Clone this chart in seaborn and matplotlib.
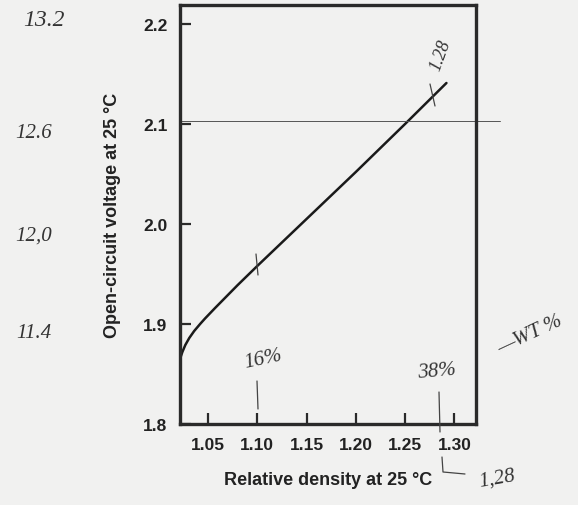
import matplotlib
matplotlib.use("Agg")
import matplotlib.pyplot as plt
from matplotlib.lines import Line2D
import seaborn as sns
import pandas as pd

# Data
density = [1.0216, 1.024, 1.027, 1.031, 1.036, 1.042, 1.047, 1.057, 1.067, 1.08,
           1.10, 1.15, 1.20, 1.25, 1.292]
voltage = [1.865, 1.872, 1.879, 1.886, 1.893, 1.900, 1.9055, 1.9158, 1.9258, 1.9388,
           1.958, 2.005, 2.052, 2.100, 2.141]
x_ticks = [1.05, 1.10, 1.15, 1.20, 1.25, 1.30]
x_tick_labels = ["1.05", "1.10", "1.15", "1.20", "1.25", "1.30"]
y_ticks = [1.8, 1.9, 2.0, 2.1, 2.2]
y_tick_labels = ["1.8", "1.9", "2.0", "2.1", "2.2"]
ref_voltage = 2.103  # hand-drawn horizontal line

# Handwritten notes: (text, x fig px, y fig px, rotation, size)
notes_text = ["13.2", "12.6", "12,0", "11.4", "16%", "38%", "\u2014WT %", "1,28", "1.28"]
notes_x = [44, 34, 34, 34, 263, 437, 530, 497, 441]
notes_y = [20, 133, 236, 334, 360, 372, 335, 479, 56]
notes_rot = [0, 0, 0, 0, 12, 5, 25, 10, 70]
notes_size = [17, 15, 15, 15, 15, 15, 15, 15, 13]

# Handwritten pen strokes (figure px)
strokes = [
    [(257, 382), (258, 410)],
    [(439, 393), (440, 433)],
    [(442, 458), (443, 473), (465, 475)],
    [(256, 255), (258, 276)],
    [(430, 85), (435, 107)],
]

W, H = 578, 506
df = pd.DataFrame({"density": density, "voltage": voltage})

sns.set_theme(style="ticks")
plt.rcParams["font.family"] = ["Liberation Sans", "DejaVu Sans"]

fig = plt.figure(figsize=(W / 100, H / 100), dpi=100, facecolor="#f1f1f0")
ax = fig.add_axes([180 / W, 1 - 425 / H, (476 - 180) / W, (425 - 6) / H])
ax.set_facecolor("#f1f1f0")

sns.lineplot(data=df, x="density", y="voltage", ax=ax, color="#1a1a1a",
             linewidth=1.8, estimator=None, sort=False)

ax.axhline(ref_voltage, xmin=0, xmax=1.08, color="#555555", linewidth=0.7,
           clip_on=False)

ax.set_xlim(1.0216, 1.322)
ax.set_ylim(1.8, 2.219)
ax.set_xticks(x_ticks)
ax.set_xticklabels(x_tick_labels)
ax.set_yticks(y_ticks)
ax.set_yticklabels(y_tick_labels)

for s in ax.spines.values():
    s.set_linewidth(2.4)
    s.set_color("#2a2a2a")
ax.tick_params(direction="in", length=8, width=1.6, color="#2a2a2a",
               labelsize=12.5, pad=9, labelcolor="#222222")
for lab in ax.get_xticklabels() + ax.get_yticklabels():
    lab.set_fontweight("bold")

ax.set_xlabel("Relative density at 25 \u00b0C", fontsize=13, fontweight="bold",
              color="#222222", labelpad=14)
ax.set_ylabel("Open-circuit voltage at 25 \u00b0C", fontsize=13, fontweight="bold",
              color="#222222", labelpad=16)

for t, x, y, r, s in zip(notes_text, notes_x, notes_y, notes_rot, notes_size):
    fig.text(x / W, 1 - y / H, t, rotation=r, fontsize=s, ha="center", va="center",
             family=["Liberation Serif", "DejaVu Serif"], style="italic",
             color="#333333")

for st in strokes:
    xs = [p[0] / W for p in st]
    ys = [1 - p[1] / H for p in st]
    fig.add_artist(Line2D(xs, ys, transform=fig.transFigure, color="#444444",
                          linewidth=0.9))

fig.savefig("out.png", dpi=100, facecolor=fig.get_facecolor())
